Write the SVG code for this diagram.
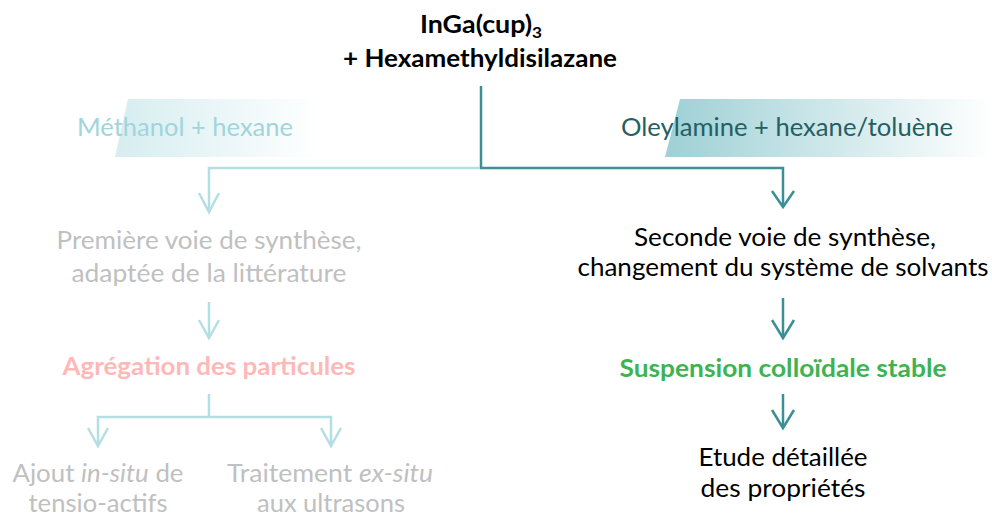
<svg xmlns="http://www.w3.org/2000/svg" width="992" height="518" viewBox="0 0 992 518">
<style>
text{font-family:Lato,"Open Sans","Liberation Sans",sans-serif;font-size:25px;text-anchor:middle}
.b{font-weight:bold}
.grey{fill:#c0c0c0}
.dk{fill:#000}
.lt{fill:none;stroke:#b3dfe4;stroke-width:2.5}
.dt{fill:none;stroke:#3b8f95;stroke-width:2.5}
</style>
<defs>
<linearGradient id="gL" x1="0" y1="0" x2="1" y2="0">
<stop offset="0" stop-color="#d6edf0"/>
<stop offset="1" stop-color="#ffffff"/>
</linearGradient>
<linearGradient id="gR" x1="0" y1="0" x2="1" y2="0">
<stop offset="0" stop-color="#9ed0d5"/>
<stop offset="1" stop-color="#ffffff"/>
</linearGradient>
</defs>
<g id="banner-left">
<polygon points="128,99 320,99 320,157 115,157" fill="url(#gL)"/>
<text x="185" y="136" fill="#a0d5dc" textLength="216" lengthAdjust="spacingAndGlyphs">Méthanol + hexane</text>
</g>
<g id="banner-right">
<polygon points="680,99 992,99 992,157 665,157" fill="url(#gR)"/>
<text x="787" y="136" fill="#245f63" textLength="332" lengthAdjust="spacingAndGlyphs">Oleylamine + hexane/toluène</text>
</g>
<g id="connectors">
<polyline class="dt" points="481,86 481,168 783,168 783,207"/>
<polyline class="dt" points="772,191 783,207 794,191"/>
<polyline class="lt" points="480,168 209,168 209,212"/>
<polyline class="lt" points="199,193 209,212 219,193"/>
<polyline class="lt" points="209,302 209,338"/>
<polyline class="lt" points="199,320 209,338 219,320"/>
<polyline class="lt" points="209,394 209,417 98,417 98,446"/>
<polyline class="lt" points="209,417 331,417 331,446"/>
<polyline class="lt" points="88,428 98,446 108,428"/>
<polyline class="lt" points="321,428 331,446 341,428"/>
<polyline class="dt" points="783,298 783,338"/>
<polyline class="dt" points="772,320 783,338 794,320"/>
<polyline class="dt" points="783,394 783,428"/>
<polyline class="dt" points="772,410 783,428 794,410"/>
</g>
<g id="start">
<text class="b dk" x="481" y="33" textLength="122" lengthAdjust="spacingAndGlyphs">InGa(cup)<tspan font-size="16" dy="5">3</tspan></text>
<text class="b dk" x="480" y="67" textLength="274" lengthAdjust="spacingAndGlyphs">+ Hexamethyldisilazane</text>
</g>
<g id="voie1">
<text class="grey" x="209" y="249" textLength="305" lengthAdjust="spacingAndGlyphs">Première voie de synthèse,</text>
<text class="grey" x="209" y="282" textLength="275" lengthAdjust="spacingAndGlyphs">adaptée de la littérature</text>
</g>
<g id="agregation">
<text class="b" x="209" y="375" fill="#ffb8b8" textLength="293" lengthAdjust="spacingAndGlyphs">Agrégation des particules</text>
</g>
<g id="insitu">
<text class="grey" x="98" y="482" textLength="171" lengthAdjust="spacingAndGlyphs">Ajout <tspan font-style="italic">in-situ</tspan> de</text>
<text class="grey" x="98" y="512" textLength="139" lengthAdjust="spacingAndGlyphs">tensio-actifs</text>
</g>
<g id="exsitu">
<text class="grey" x="330" y="482" textLength="206" lengthAdjust="spacingAndGlyphs">Traitement <tspan font-style="italic">ex-situ</tspan></text>
<text class="grey" x="331" y="512" textLength="148" lengthAdjust="spacingAndGlyphs">aux ultrasons</text>
</g>
<g id="voie2">
<text class="dk" x="785" y="246" textLength="302" lengthAdjust="spacingAndGlyphs">Seconde voie de synthèse,</text>
<text class="dk" x="783" y="276" textLength="411" lengthAdjust="spacingAndGlyphs">changement du système de solvants</text>
</g>
<g id="suspension">
<text class="b" x="783" y="377" fill="#3db351" textLength="327" lengthAdjust="spacingAndGlyphs">Suspension colloïdale stable</text>
</g>
<g id="etude">
<text class="dk" x="783" y="466" textLength="169" lengthAdjust="spacingAndGlyphs">Etude détaillée</text>
<text class="dk" x="783" y="497" textLength="165" lengthAdjust="spacingAndGlyphs">des propriétés</text>
</g>
</svg>
